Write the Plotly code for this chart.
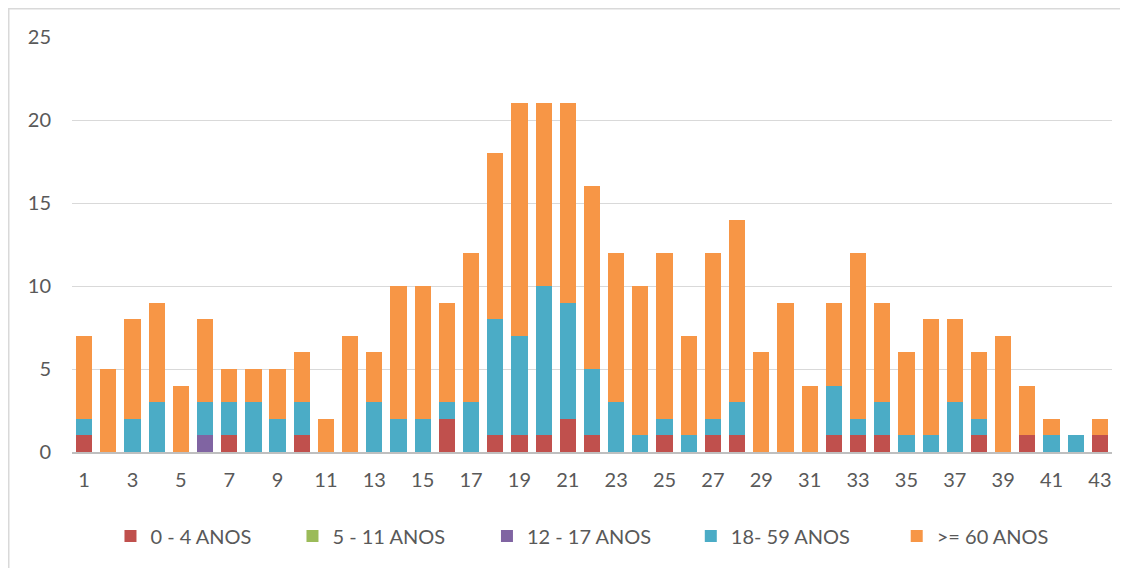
import plotly.graph_objects as go

categories = list(range(1, 44))
age_0_4 = [1,0,0,0,0,0,1,0,0,1,0,0,0,0,0,2,0,1,1,1,2,1,0,0,1,0,1,1,0,0,0,1,1,1,0,0,0,1,0,1,0,0,1]
age_5_11 = [0]*43
age_12_17 = [0,0,0,0,0,1,0,0,0,0,0,0,0,0,0,0,0,0,0,0,0,0,0,0,0,0,0,0,0,0,0,0,0,0,0,0,0,0,0,0,0,0,0]
age_18_59 = [1,0,2,3,0,2,2,3,2,2,0,0,3,2,2,1,3,7,6,9,7,4,3,1,1,1,1,2,0,0,0,3,1,2,1,1,3,1,0,0,1,1,0]
age_60 = [5,5,6,6,4,5,2,2,3,3,2,7,3,8,8,6,9,10,14,11,12,11,9,9,10,6,10,11,6,9,4,5,10,6,5,7,5,4,7,3,1,0,1]

series_names = ["0 - 4 ANOS", "5 - 11 ANOS", "12 - 17 ANOS", "18- 59 ANOS", ">= 60 ANOS"]
series_values = [age_0_4, age_5_11, age_12_17, age_18_59, age_60]
colors = ["#C0504D", "#9BBB59", "#8064A2", "#4BACC6", "#F79646"]
legend_ids = ["legend", "legend2", "legend3", "legend4", "legend5"]
legend_x = [0.037, 0.212, 0.399, 0.595, 0.793]

x_ticks = list(range(1, 44, 2))
y_ticks = [0, 5, 10, 15, 20, 25]

FONT = "Lato, 'Open Sans', sans-serif"
fig = go.Figure()
for name, vals, col, lid in zip(series_names, series_values, colors, legend_ids):
    fig.add_trace(go.Bar(x=categories, y=vals, name=name, marker=dict(color=col, line=dict(width=0)),
                         legend=lid, showlegend=True))

# page body adds 8px offset; figure edges coincide with reference chart border
W, H = 1120, 560
ml, mr, mt, mb = 64, 16, 29, 116
pw, ph = W - ml - mr, H - mt - mb

def px_to_paper_x(px):
    return (px - ml) / pw

def px_to_paper_y(py):
    return (H - mb - py) / ph

layout_legends = {}
for lid, lx in zip(legend_ids, legend_x):
    layout_legends[lid] = dict(x=lx, y=px_to_paper_y(528), xanchor="left", yanchor="middle",
                               orientation="h", font=dict(family=FONT, size=20, color="#595959"),
                               bgcolor="rgba(0,0,0,0)", itemclick=False, itemwidth=30)

fig.update_layout(
    width=W, height=H,
    showlegend=True,
    margin=dict(l=ml, r=mr, t=mt, b=mb),
    barmode="stack", bargap=0.33,
    plot_bgcolor="white", paper_bgcolor="white",
    font=dict(family=FONT, size=20, color="#595959"),
    xaxis=dict(range=[0.5, 43.5], tickmode="array", tickvals=x_ticks, ticktext=[str(v) for v in x_ticks],
               showgrid=False, showline=True, linecolor="#BFBFBF", linewidth=2, ticks="",
               ticklabelstandoff=9, tickfont=dict(family=FONT, size=20, color="#595959"), fixedrange=True),
    yaxis=dict(range=[0, 25], tickmode="array", tickvals=y_ticks, showgrid=True, gridcolor="#D9D9D9",
               gridwidth=1, zeroline=False, showline=False, ticks="", ticklabelstandoff=20,
               tickfont=dict(family=FONT, size=20, color="#595959"), fixedrange=True),
    shapes=[dict(type="rect", xref="paper", yref="paper",
                 x0=px_to_paper_x(0.75), x1=px_to_paper_x(1140), y0=px_to_paper_y(580), y1=px_to_paper_y(0.75),
                 line=dict(color="#D9D9D9", width=1.5), fillcolor="rgba(0,0,0,0)", layer="below")],
    **layout_legends,
)

fig.write_html("out.html")
